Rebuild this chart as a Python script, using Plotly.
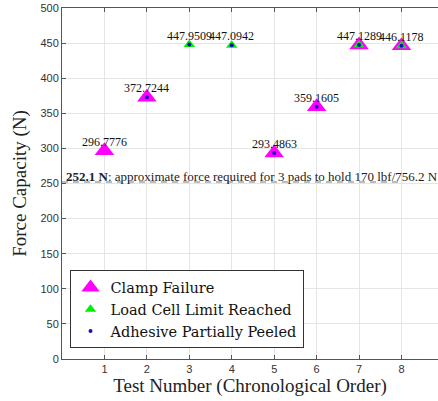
import plotly.graph_objects as go

tests = [1, 2, 3, 4, 5, 6, 7, 8]
force = [296.7776, 372.7244, 447.9509, 447.0942, 293.4863, 359.1605, 447.1289, 446.1178]
clamp_tests = [1, 2, 5, 6, 7, 8]
clamp_force = [296.7776, 372.7244, 293.4863, 359.1605, 447.1289, 446.1178]
loadcell_tests = [3, 4, 7, 8]
loadcell_force = [447.9509, 447.0942, 447.1289, 446.1178]
peeled_tests = [2, 3, 4, 5, 6, 7, 8]
peeled_force = [372.7244, 447.9509, 447.0942, 293.4863, 359.1605, 447.1289, 446.1178]
threshold = 252.1
threshold_x = [0, 8]
threshold_text = "<b>252.1 N</b>: approximate force required for 3 pads to hold 170 lbf/756.2 N"

SERIF = "Liberation Serif"
SANS = "Liberation Sans"

fig = go.Figure()
fig.add_trace(go.Scatter(x=threshold_x, y=[threshold, threshold], mode="lines",
                         line=dict(color="#a6a6a6", width=1.5, dash="6px,5px"),
                         showlegend=False, hoverinfo="skip"))
fig.add_trace(go.Scatter(x=clamp_tests, y=clamp_force, mode="markers", name="Clamp Failure",
                         marker=dict(symbol="triangle-up", size=17, color="#ff00ff", line=dict(width=0))))
fig.add_trace(go.Scatter(x=loadcell_tests, y=loadcell_force, mode="markers", name="Load Cell Limit Reached",
                         marker=dict(symbol="triangle-up", size=10, color="#00ee00", line=dict(width=0))))
fig.add_trace(go.Scatter(x=peeled_tests, y=peeled_force, mode="markers", name="Adhesive Partially Peeled",
                         marker=dict(symbol="circle", size=4, color="#1010c0", line=dict(width=0))))

for xv, yv in zip(tests, force):
    fig.add_annotation(x=xv, y=yv, text=f"{yv:.4f}", showarrow=False, yshift=9,
                       font=dict(family=SERIF, size=12, color="#111"))

fig.add_annotation(x=0, y=threshold, text=threshold_text, showarrow=False, xanchor="left",
                   yanchor="bottom", xshift=2, yshift=-4, font=dict(family=SERIF, size=13, color="#222"))

fig.update_layout(
    width=438, height=401, margin=dict(l=62, r=0, t=8, b=42),
    plot_bgcolor="white", paper_bgcolor="white",
    legend=dict(x=0.02, y=0.03, xanchor="left", yanchor="bottom", bordercolor="#333", borderwidth=1,
                bgcolor="white", font=dict(family="DejaVu Serif", size=14.5, color="#111"),
                tracegroupgap=0, itemsizing="trace"),
    xaxis=dict(range=[0, 8.86], tickvals=tests, ticks="inside", ticklen=4, tickcolor="#555",
               showline=True, linecolor="#555", mirror="ticks", showgrid=True, gridcolor="#e5e5e5",
               zeroline=False, tickfont=dict(family=SANS, size=11, color="#333"),
               title=dict(text="Test Number (Chronological Order)", font=dict(family=SERIF, size=19, color="#222"), standoff=2)),
    yaxis=dict(range=[0, 500], dtick=50, ticks="inside", ticklen=4, tickcolor="#555",
               showline=True, linecolor="#555", showgrid=True, gridcolor="#e5e5e5",
               zeroline=False, tickfont=dict(family=SANS, size=11, color="#333"),
               title=dict(text="Force Capacity (N)", font=dict(family=SERIF, size=19, color="#222"), standoff=8)),
)

fig.write_html("out.html")
